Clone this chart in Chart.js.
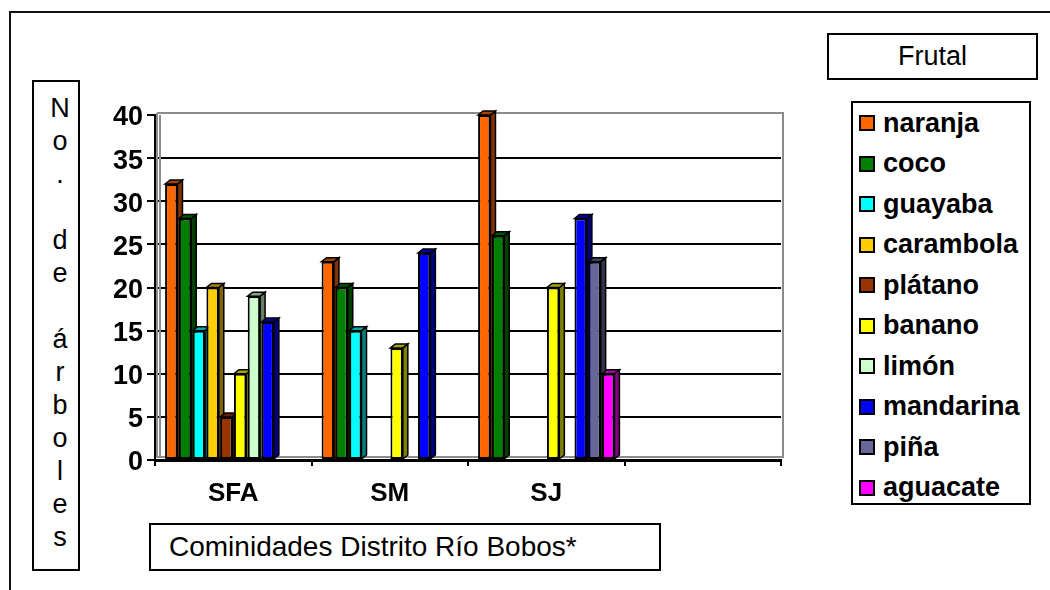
<!DOCTYPE html>
<html>
<head>
<meta charset="utf-8">
<title>Frutal</title>
<script src="https://cdn.jsdelivr.net/npm/chart.js@4.4.1/dist/chart.umd.min.js"></script>
<style>
  html, body { margin: 0; padding: 0; background: #fff; overflow: hidden; }
  #wrap { position: relative; width: 1050px; height: 590px; font-family: 'Liberation Sans', Arial, sans-serif; color: #000; }
  #frame { position: absolute; left: 9px; top: 11px; width: 1100px; height: 700px; border-left: 2px solid #111; border-top: 2px solid #111; }
  #chart { position: absolute; left: 0; top: 0; }
  .box { position: absolute; box-sizing: border-box; background: #fff; border: 2px solid #000; }
  #ytitle { left: 32px; top: 80px; width: 48px; height: 491px; padding: 10px 0 0 8px; font-size: 27px; text-align: center; }
  #ytitle div { height: 33px; line-height: 33px; }
  #frutal { left: 827px; top: 33px; width: 211px; height: 47px; font-size: 27px; line-height: 43px; text-align: center; }
  #xtitle { left: 149px; top: 523px; width: 512px; height: 48px; font-size: 28px; line-height: 44px; padding-left: 18px; }
  #legend { left: 851px; top: 101px; width: 180px; height: 404px; padding-top: 0; }
  #legend .item { display: flex; align-items: center; height: 40.5px; font-weight: bold; font-size: 27px; }
  #legend .sw { width: 16px; height: 16px; box-sizing: border-box; border: 2px solid #000; margin-left: 6px; margin-right: 8px; }
</style>
</head>
<body>
<div id="wrap">
  <div id="frame"></div>
  <canvas id="chart" width="1050" height="590"></canvas>
  <div class="box" id="ytitle"></div>
  <div class="box" id="frutal">Frutal</div>
  <div class="box" id="legend"></div>
  <div class="box" id="xtitle">Cominidades Distrito Río Bobos*</div>
</div>
<script>
// communities on the x axis (last slot is empty in the original)
const categories = ['SFA', 'SM', 'SJ', ''];
const fruits = ['naranja', 'coco', 'guayaba', 'carambola', 'plátano', 'banano', 'limón', 'mandarina', 'piña', 'aguacate'];

// number of trees per community
const naranja   = [32, 23, 40, null];
const coco      = [28, 20, 26, null];
const guayaba   = [15, 15, null, null];
const carambola = [20, null, null, null];
const platano   = [5, null, null, null];
const banano    = [10, 13, 20, null];
const limon     = [19, null, null, null];
const mandarina = [16, 24, 28, null];
const pina      = [null, null, 23, null];
const aguacate  = [null, null, 10, null];

const yTicks = [0, 5, 10, 15, 20, 25, 30, 35, 40];
const yTitle = 'No. de árboles';

const seriesValues = [naranja, coco, guayaba, carambola, platano, banano, limon, mandarina, pina, aguacate];
const fruitColors = ['#FF6600', '#008000', '#00FFFF', '#FFCC00', '#993300', '#FFFF00', '#CCFFCC', '#0000FF', '#666699', '#FF00FF'];

const FONT = "'Liberation Sans', Arial, sans-serif";
const DX = 5, DY = 4;

function shade(hex, f) {
    const n = parseInt(hex.slice(1), 16);
    const r = Math.round(((n >> 16) & 255) * f);
    const g = Math.round(((n >> 8) & 255) * f);
    const b = Math.round((n & 255) * f);
    return `rgb(${r},${g},${b})`;
}

// fake excel-style 3d: back wall edges + side/top faces of the bars
const depthPlugin = {
    id: 'depth',
    beforeDatasetsDraw(chart) {
        const {ctx, chartArea: a} = chart;
        ctx.save();
        ctx.strokeStyle = '#8c8c8c';
        ctx.lineWidth = 2;
        ctx.beginPath();
        ctx.moveTo(a.left + 2, a.top - 2);
        ctx.lineTo(a.right + 2, a.top - 2);
        ctx.lineTo(a.right + 2, a.bottom - 3);
        ctx.lineTo(a.left + 2, a.bottom - 3);
        ctx.lineTo(a.left + 2, a.top - 2);
        ctx.moveTo(a.left + 5, a.top);
        ctx.lineTo(a.left + 5, a.bottom - 3);
        ctx.stroke();

        ctx.lineWidth = 1.5;
        ctx.strokeStyle = '#000';
        chart.data.datasets.forEach((ds, i) => {
            const meta = chart.getDatasetMeta(i);
            meta.data.forEach((bar, j) => {
                if (ds.data[j] == null) return;
                const {x, y, base, width} = bar.getProps(['x', 'y', 'base', 'width'], true);
                const l = x - width / 2, r = x + width / 2;
                // side
                ctx.fillStyle = shade(fruitColors[i], 0.5);
                ctx.beginPath();
                ctx.moveTo(r, base);
                ctx.lineTo(r, y);
                ctx.lineTo(r + DX, y - DY);
                ctx.lineTo(r + DX, base - DY);
                ctx.closePath();
                ctx.fill();
                ctx.stroke();
                // top
                ctx.fillStyle = shade(fruitColors[i], 0.65);
                ctx.beginPath();
                ctx.moveTo(l, y);
                ctx.lineTo(l + DX, y - DY);
                ctx.lineTo(r + DX, y - DY);
                ctx.lineTo(r, y);
                ctx.closePath();
                ctx.fill();
                ctx.stroke();
            });
        });
        ctx.restore();
    }
};

const chart = new Chart(document.getElementById('chart'), {
    type: 'bar',
    data: {
        labels: categories,
        datasets: fruits.map((name, i) => ({
            label: name,
            data: seriesValues[i],
            backgroundColor: fruitColors[i],
            borderColor: '#000',
            borderWidth: 2,
            borderSkipped: false,
            categoryPercentage: 0.88,
            barPercentage: 0.9,
        })),
    },
    options: {
        responsive: false,
        animation: false,
        devicePixelRatio: 1,
        layout: {
            padding: {left: 0, right: 269, top: 115, bottom: 0},
        },
        plugins: {
            legend: {display: false},
            title: {display: false},
            tooltip: {enabled: false},
        },
        scales: {
            x: {
                grid: {
                    drawOnChartArea: false,
                    color: '#000',
                    lineWidth: 2,
                    tickLength: 6,
                },
                border: {color: '#000', width: 3},
                ticks: {
                    color: '#000',
                    font: {family: FONT, size: 26, weight: 'bold'},
                    padding: 12,
                },
                afterFit(scale) { scale.height = 130; },
            },
            y: {
                min: 0,
                max: 40,
                afterBuildTicks(scale) { scale.ticks = yTicks.map(v => ({value: v})); },
                grid: {
                    color: ctx => (ctx.tick && ctx.tick.value === 40) ? 'rgba(0,0,0,0)' : '#000',
                    tickColor: '#000',
                    lineWidth: 2,
                    tickLength: 8,
                },
                border: {color: '#000', width: 2},
                ticks: {
                    color: '#000',
                    font: {family: FONT, size: 27, weight: 'bold'},
                    padding: 4,
                    labelOffset: 3,
                },
                afterFit(scale) { scale.width = 155; },
            },
        },
    },
    plugins: [depthPlugin],
});

// y title, one character per line like the original
const yBox = document.getElementById('ytitle');
yTitle.split('').forEach(ch => {
    const d = document.createElement('div');
    d.textContent = ch === ' ' ? '\u00a0' : ch;
    yBox.appendChild(d);
});

// html legend from the chart datasets
const legendBox = document.getElementById('legend');
chart.data.datasets.forEach(ds => {
    const item = document.createElement('div');
    item.className = 'item';
    const sw = document.createElement('span');
    sw.className = 'sw';
    sw.style.background = ds.backgroundColor;
    const txt = document.createElement('span');
    txt.textContent = ds.label;
    item.appendChild(sw);
    item.appendChild(txt);
    legendBox.appendChild(item);
});
</script>
</body>
</html>
